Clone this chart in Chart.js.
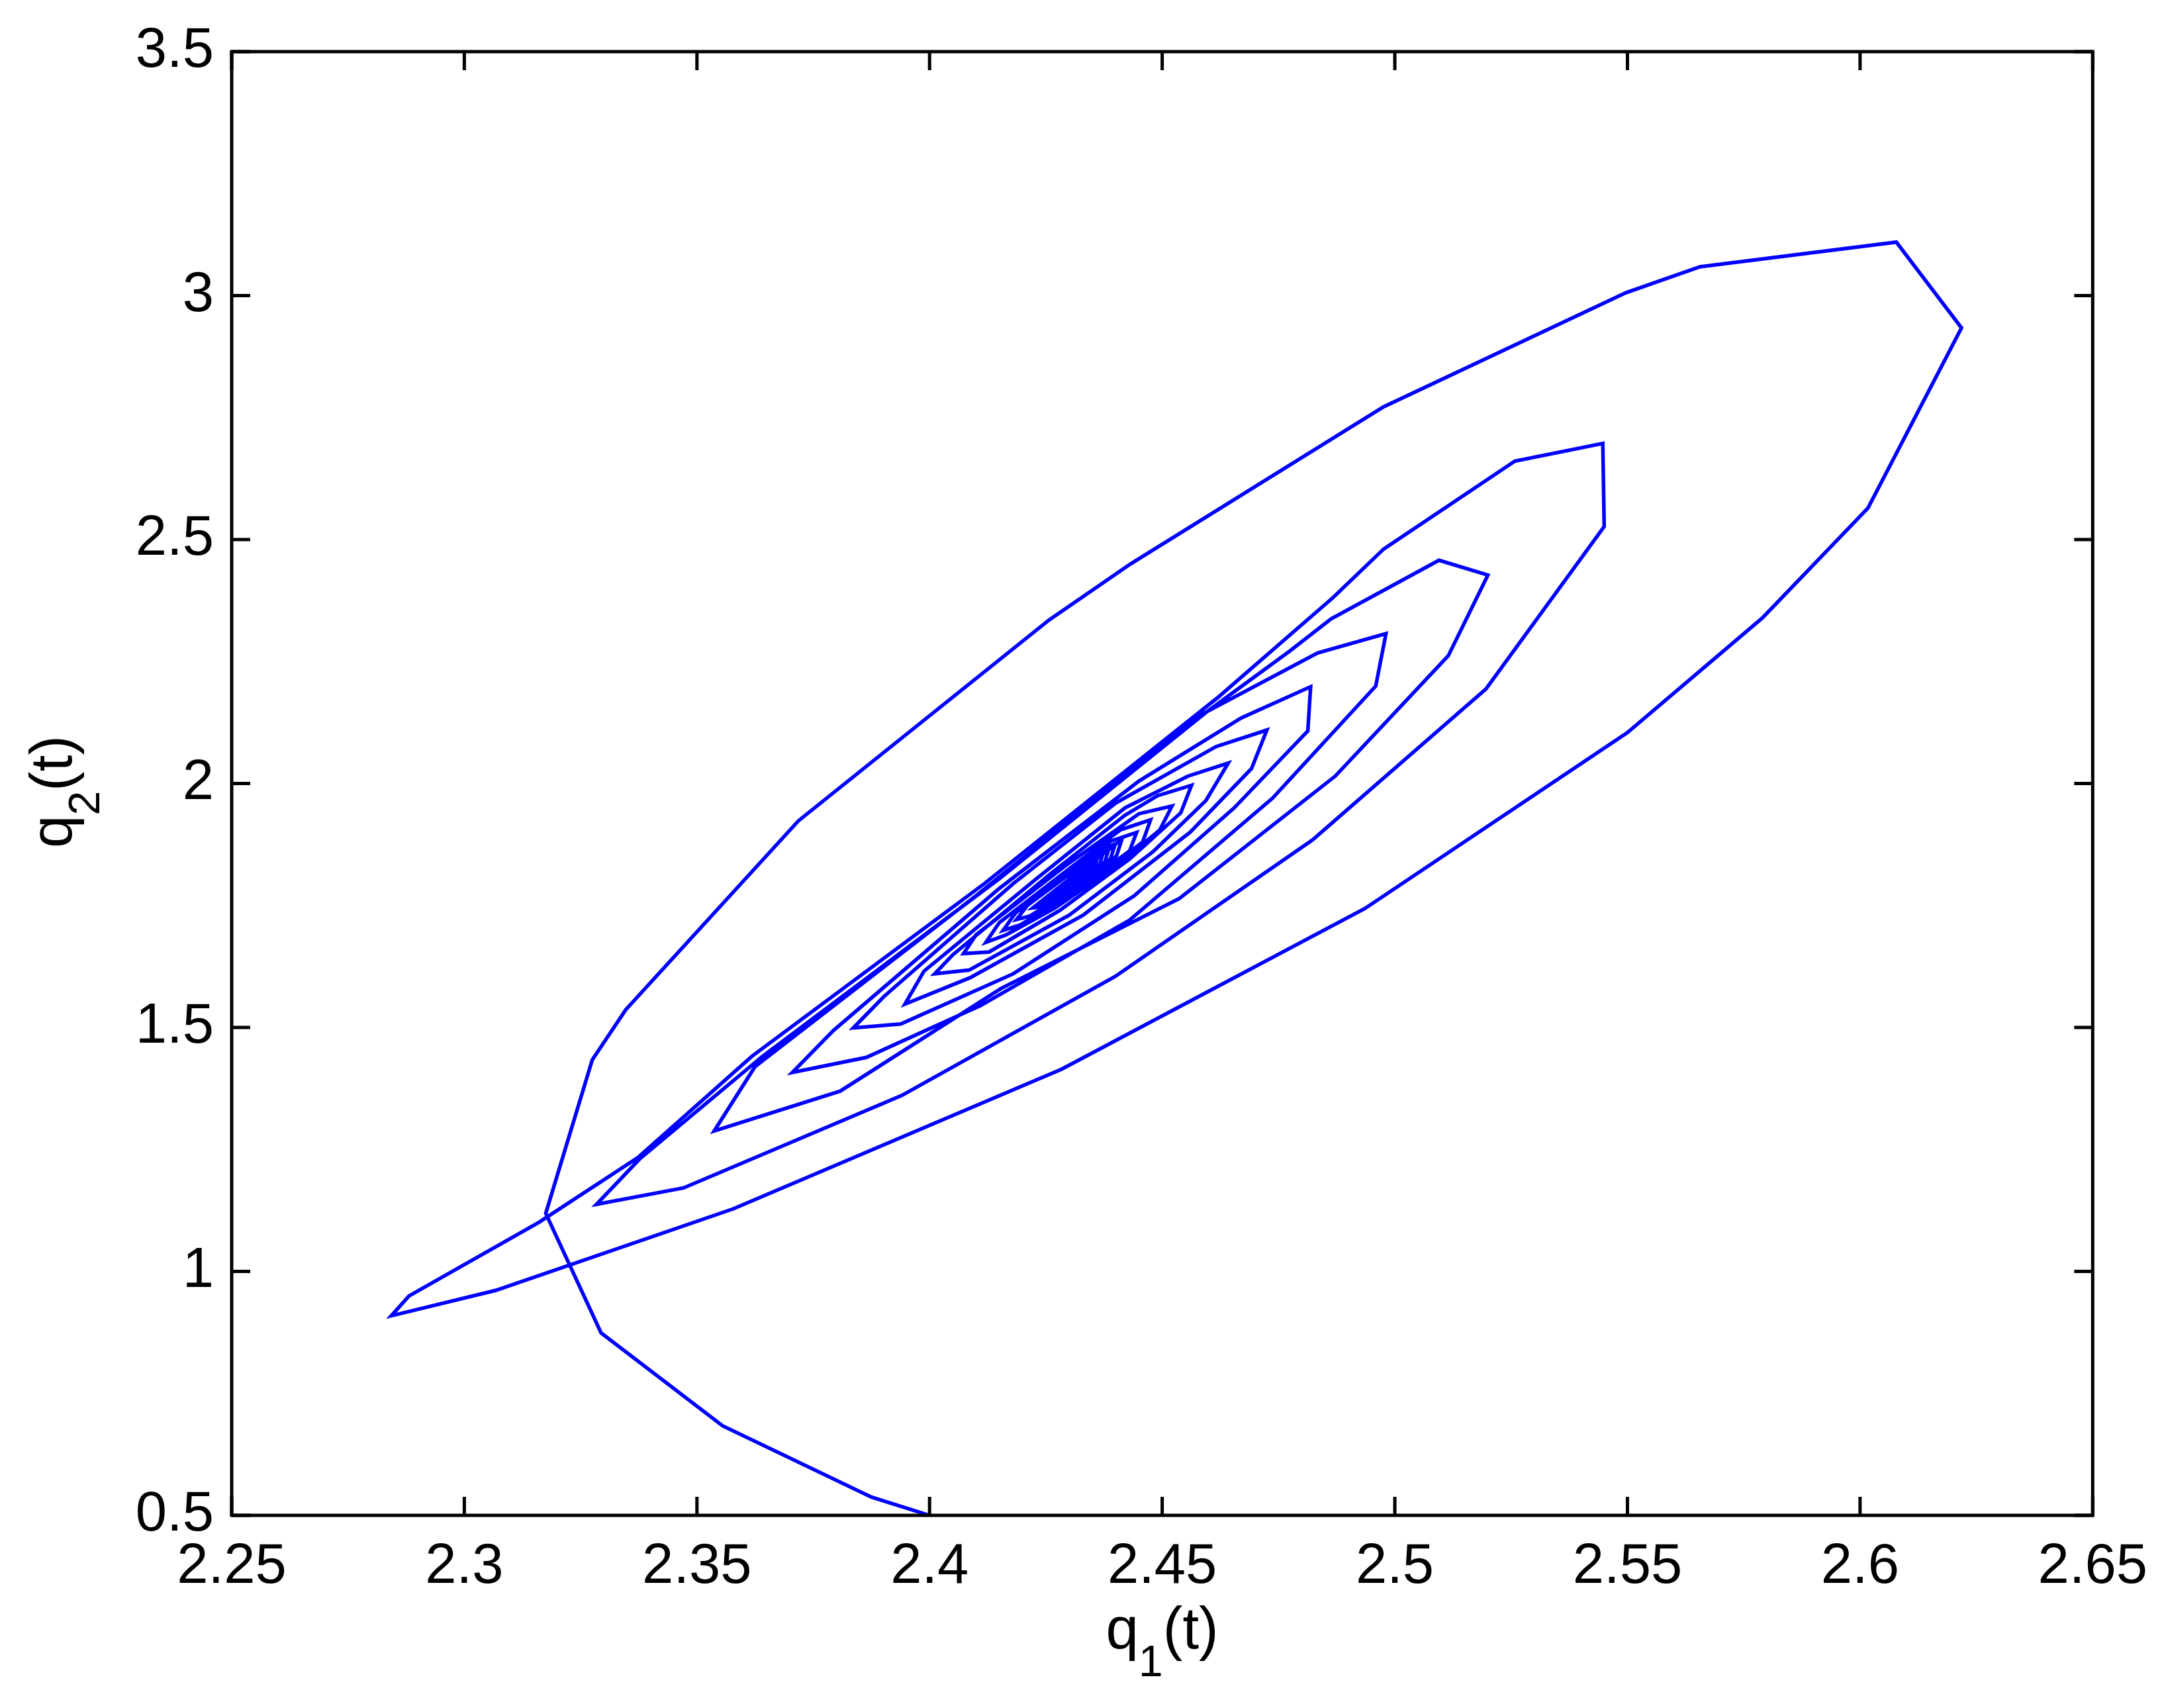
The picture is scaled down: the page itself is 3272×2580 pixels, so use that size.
<!DOCTYPE html>
<html>
<head>
<meta charset="utf-8">
<script src="https://cdn.jsdelivr.net/npm/chart.js@4.4.1/dist/chart.umd.min.js"></script>
<style>
html,body{margin:0;padding:0;background:#ffffff;}
canvas{display:block;}
</style>
</head>
<body>
<canvas id="c" width="3272" height="2580"></canvas>
<script>
// ---- data (trajectory q1(t), q2(t)) ----
const q1 = [
  2.4000,2.3875,2.3555,2.3294,2.3175,2.3275,2.3347,2.3718,2.4257,2.4432,
  2.4976,2.5497,2.5656,2.6078,2.6218,2.6017,2.5790,2.5500,2.4936,2.4284,
  2.3578,2.3067,2.2843,2.2881,
  2.3161,2.3373,2.3618,2.4118,2.4618,2.4867,2.4976,2.5258,2.5447,2.5450,
  2.5196,2.4823,2.4399,2.3940,2.3471,2.3284,
  2.3378,2.3640,2.4150,2.4600,2.4775,2.4863,2.5095,2.5200,2.5115,
  2.4872,2.4537,2.4153,2.3808,2.3537,
  2.3625,2.4100,2.4575,2.4834,2.4981,2.4959,
  2.4737,2.4430,2.4110,2.3864,2.3705,
  2.3793,2.4150,2.4450,2.4670,2.4819,2.4813,
  2.4654,2.4440,2.4180,2.3938,2.3836,
  2.3902,2.4180,2.4400,2.4616,2.4725,2.4692,
  2.4560,2.4330,2.4087,2.3947,
  2.3988,2.4230,2.4420,2.4555,2.4642,2.4594,
  2.4480,2.4300,2.4085,2.4011,
  2.4050,2.4260,2.4420,2.4490,2.4563,2.4540,
  2.4430,2.4280,2.4128,2.4073,
  2.4100,2.4290,2.4450,2.4521,2.4495,
  2.4400,2.4270,2.4165,2.4121,
  2.4150,2.4300,2.4410,2.4475,2.4458,
  2.4370,2.4265,2.4195,2.4158,
  2.4185,2.4310,2.4390,2.4445,2.4430,
  2.4350,2.4265,2.4215,2.4187,
  2.4210,2.4320,2.4370,2.4412,2.4402,
  2.4339,2.4267,2.4222,
  2.4319,2.4398,2.4389, 2.4334,2.4271,2.4232,
  2.4316,2.4385,2.4377, 2.4329,2.4275,2.4241,
  2.4314,2.4373,2.4366, 2.4325,2.4278,2.4249,
  2.4311,2.4362,2.4356, 2.4321,2.4281,2.4256,
  2.4309,2.4352,2.4347, 2.4318,2.4284,2.4263,
  2.4307,2.4343,2.4339, 2.4315,2.4287,2.4269,
  2.4305,2.4335,2.4332, 2.4312,2.4289,2.4274,
  2.4304,2.4328,2.4325, 2.4309,2.4291,2.4279,
  2.4303,2.4322,2.4320, 2.4307,2.4292,2.4283,
  2.4302,2.4317,2.4315, 2.4305,2.4294,2.4287,
  2.4301,2.4313,2.4311, 2.4304,2.4295,2.4290,
  2.4300,2.4309,2.4308, 2.4302,2.4296
];
const q2 = [
  0.5000,0.5375,0.6836,0.8740,1.1189,1.4337,1.5363,1.9234,2.3352,2.4500,
  2.7720,3.0060,3.0590,3.1095,2.9338,2.5647,2.3393,2.1045,1.7439,1.4146,
  1.1282,0.9610,0.9090,0.9495,
  1.1010,1.2332,1.4408,1.7950,2.1750,2.3810,2.4805,2.6607,2.6970,2.5265,
  2.1940,1.8842,1.6045,1.3604,1.1710,1.1374,
  1.2315,1.4400,1.8050,2.1500,2.2720,2.3374,2.4576,2.4271,2.2619,
  2.0152,1.7642,1.5795,1.3695,1.2877,
  1.4200,1.7700,2.1367,2.2676,2.3072,2.1997,
  1.9697,1.7200,1.5450,1.4386,1.4078,
  1.4935,1.7850,2.0050,2.1343,2.1983,2.1078,
  1.9494,1.7700,1.6100,1.5071,1.4990,
  1.5634,1.7950,1.9600,2.0757,2.1095,2.0306,
  1.9000,1.7300,1.6019,1.5478,
  1.6154,1.8050,1.9500,2.0150,2.0418,1.9651,
  1.8600,1.7300,1.6176,1.6099,
  1.6490,1.8150,1.9350,1.9750,1.9963,1.9400,
  1.8450,1.7400,1.6547,1.6514,
  1.6900,1.8300,1.9380,1.9538,1.9050,
  1.8300,1.7450,1.6900,1.6744,
  1.7150,1.8250,1.9050,1.9254,1.8800,
  1.8150,1.7500,1.7100,1.6988,
  1.7350,1.8250,1.8820,1.8996,1.8620,
  1.8050,1.7570,1.7280,1.7213,
  1.7500,1.8280,1.8640,1.8817,1.8520,
  1.7928,1.7501,1.7450,
  1.8184,1.8730,1.8460, 1.7922,1.7551,1.7520,
  1.8163,1.8650,1.8400, 1.7916,1.7603,1.7580,
  1.8148,1.8580,1.8350, 1.7918,1.7647,1.7640,
  1.8127,1.8520,1.8310, 1.7919,1.7691,1.7690,
  1.8112,1.8460,1.8270, 1.7927,1.7735,1.7740,
  1.8098,1.8410,1.8230, 1.7936,1.7779,1.7780,
  1.8084,1.8360,1.8200, 1.7944,1.7816,1.7820,
  1.8077,1.8320,1.8180, 1.7942,1.7845,1.7860,
  1.8069,1.8280,1.8150, 1.7948,1.7867,1.7890,
  1.8062,1.8250,1.8130, 1.7954,1.7897,1.7920,
  1.8055,1.8220,1.8110, 1.7967,1.7919,1.7950,
  1.8048,1.8190,1.8100, 1.8000,1.7970
];

const xTickValues = [2.25, 2.3, 2.35, 2.4, 2.45, 2.5, 2.55, 2.6, 2.65];
const xTickLabels = ['2.25', '2.3', '2.35', '2.4', '2.45', '2.5', '2.55', '2.6', '2.65'];
const yTickValues = [0.5, 1, 1.5, 2, 2.5, 3, 3.5];
const yTickLabels = ['0.5', '1', '1.5', '2', '2.5', '3', '3.5'];

const xTitleParts = ['q', '1', '(t)'];
const yTitleParts = ['q', '2', '(t)'];

// ---- build dataset from arrays ----
const points = q1.map((v, i) => ({ x: v, y: q2[i] }));

const FONT = '"Liberation Sans", Arial, Helvetica, sans-serif';

function drawSubLabel(ctx, parts, x, y, rotate) {
  ctx.save();
  ctx.translate(x, y);
  if (rotate) ctx.rotate(-Math.PI / 2);
  ctx.fillStyle = '#000000';
  ctx.textBaseline = 'alphabetic';
  ctx.textAlign = 'left';
  const mainFont = '89px ' + FONT;
  const subFont = '66px ' + FONT;
  ctx.font = mainFont; const w1 = ctx.measureText(parts[0]).width;
  ctx.font = subFont;  const w2 = ctx.measureText(parts[1]).width;
  ctx.font = mainFont; const w3 = ctx.measureText(parts[2]).width;
  let cx = -(w1 + w2 + w3) / 2;
  ctx.font = mainFont; ctx.fillText(parts[0], cx, 0); cx += w1;
  ctx.font = subFont;  ctx.fillText(parts[1], cx, 42); cx += w2;
  ctx.font = mainFont; ctx.fillText(parts[2], cx, 0);
  ctx.restore();
}

const framePlugin = {
  id: 'frame',
  afterDraw(chart) {
    const ctx = chart.ctx;
    const a = chart.chartArea;
    const xs = chart.scales.x, ys = chart.scales.y;
    ctx.save();
    ctx.strokeStyle = '#000000';
    ctx.lineWidth = 5;
    ctx.lineCap = 'butt';
    ctx.strokeRect(a.left, a.top, a.right - a.left, a.bottom - a.top);
    const L = 28;
    ctx.beginPath();
    xTickValues.forEach(v => {
      const px = xs.getPixelForValue(v);
      ctx.moveTo(px, a.bottom); ctx.lineTo(px, a.bottom - L);
      ctx.moveTo(px, a.top); ctx.lineTo(px, a.top + L);
    });
    yTickValues.forEach(v => {
      const py = ys.getPixelForValue(v);
      ctx.moveTo(a.left, py); ctx.lineTo(a.left + L, py);
      ctx.moveTo(a.right, py); ctx.lineTo(a.right - L, py);
    });
    ctx.stroke();
    drawSubLabel(ctx, xTitleParts, (a.left + a.right) / 2, 2490, false);
    drawSubLabel(ctx, yTitleParts, 108, 1196, true);
    ctx.restore();
  }
};

new Chart(document.getElementById('c'), {
  type: 'scatter',
  data: {
    datasets: [{
      data: points,
      showLine: true,
      borderColor: '#0000ff',
      backgroundColor: '#0000ff',
      borderWidth: 5.5,
      borderJoinStyle: 'miter',
      pointRadius: 0,
      pointHoverRadius: 0,
      fill: false,
      tension: 0
    }]
  },
  options: {
    responsive: false,
    animation: false,
    devicePixelRatio: 1,
    events: [],
    layout: { padding: { left: 0, top: 73, right: 109, bottom: 0 } },
    plugins: { legend: { display: false }, tooltip: { enabled: false }, title: { display: false } },
    scales: {
      x: {
        type: 'linear',
        min: 2.25, max: 2.65,
        afterBuildTicks: (s) => { s.ticks = xTickValues.map(v => ({ value: v })); },
        afterFit: (s) => { s.height = 291; },
        ticks: {
          autoSkip: false, maxRotation: 0, minRotation: 0,
          padding: 28,
          color: '#000000',
          font: { family: FONT, size: 85 },
          callback: (v, i) => xTickLabels[i]
        },
        grid: { display: false, drawTicks: false },
        border: { display: false }
      },
      y: {
        type: 'linear',
        min: 0.5, max: 3.5,
        afterBuildTicks: (s) => { s.ticks = yTickValues.map(v => ({ value: v })); },
        afterFit: (s) => { s.width = 350; },
        ticks: {
          autoSkip: false,
          padding: 27,
          color: '#000000',
          font: { family: FONT, size: 85 },
          callback: (v, i) => yTickLabels[i]
        },
        grid: { display: false, drawTicks: false },
        border: { display: false }
      }
    }
  },
  plugins: [framePlugin]
});
</script>
</body>
</html>
